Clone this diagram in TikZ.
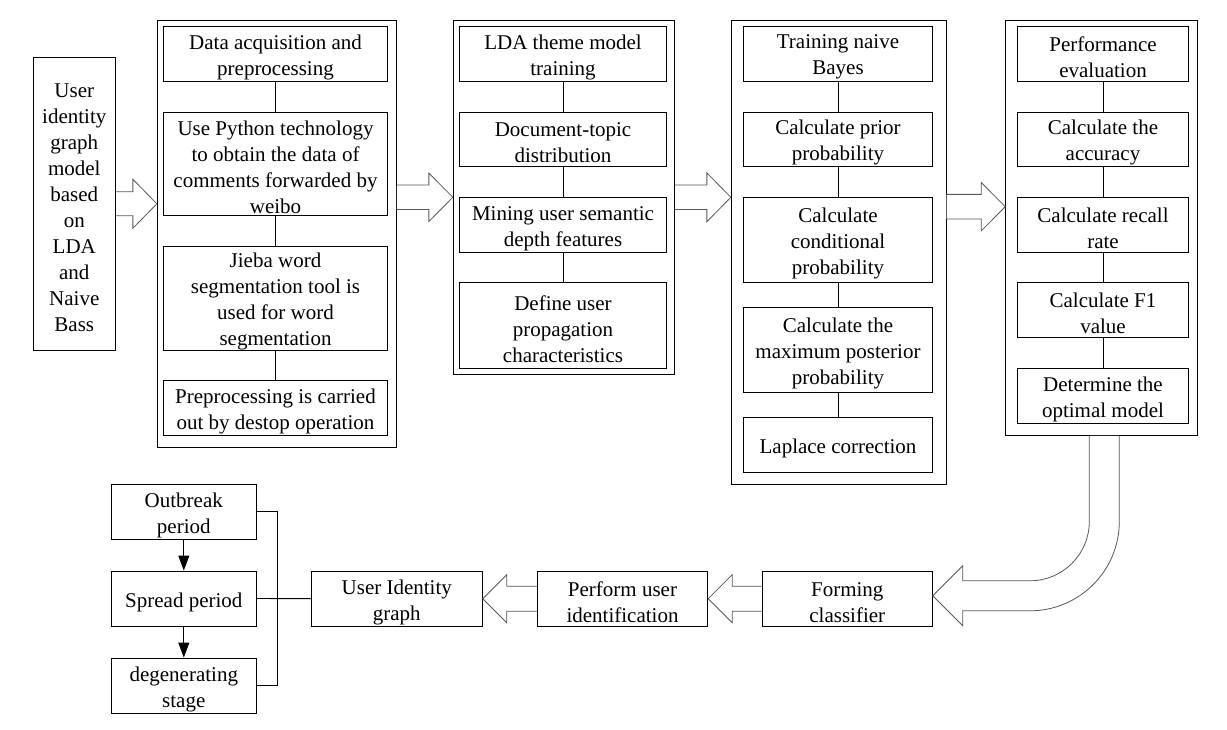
\documentclass[tikz,border=0pt]{standalone}
\usepackage{fontspec}
\setmainfont{Liberation Serif}
\usetikzlibrary{calc,arrows.meta}
\newcommand\fs{\fontsize{21pt}{26pt}\selectfont}
\newcommand\rblock[4]{%
  \draw[barrow] ($(#1)+(0,-#3)$) -- ($(#2)+(-24,-#3)$) -- ($(#2)+(-24,-#4)$) -- (#2)
    -- ($(#2)+(-24,#4)$) -- ($(#2)+(-24,#3)$) -- ($(#1)+(0,#3)$);}
\newcommand\lblock[4]{%
  \draw[barrow] ($(#1)+(0,-#3)$) -- ($(#2)+(24,-#3)$) -- ($(#2)+(24,-#4)$) -- (#2)
    -- ($(#2)+(24,#4)$) -- ($(#2)+(24,#3)$) -- ($(#1)+(0,#3)$);}
% box with text shifted slightly down: name, cx, cy, w, h, text
\newcommand\bx[6]{%
  \node[box,minimum width=#4,minimum height=#5] (#1) at (#2,#3) {};
  \node[txt] (#1t) at ($(#1.center)+(0,3.5)$) {#6};}
\begin{document}
\begin{tikzpicture}[x=1pt,y=-1pt,
  box/.style={draw,line width=0.9pt,inner sep=0pt},
  txt/.style={inner sep=0pt,align=center,font=\fs},
  frame/.style={draw,line width=0.9pt,inner sep=0pt},
  link/.style={line width=0.9pt},
  barrow/.style={draw=black!65,fill=white,line width=0.8pt,line join=miter},
  tri/.style={line width=0.9pt,-{Triangle[length=15pt,width=11pt]}}]
\useasboundingbox (0,0) rectangle (1227,730);
\fill[white] (0,0) rectangle (1227,730);

% left box
\bx{L}{74.3}{203.8}{82.7}{292.3}{User\\identity\\graph\\model\\based\\on\\LDA\\and\\Naive\\Bass}

% group 1
\node[frame,minimum width=239,minimum height=427] (G1) at (276.8,233.8) {};
\bx{a1}{275.5}{53.8}{224.4}{55}{Data acquisition and\\preprocessing}
\bx{a2}{275.5}{163.8}{224.4}{103}{Use Python technology\\to obtain the data of\\comments forwarded by\\weibo}
\bx{a3}{275.5}{298.3}{224.4}{104}{Jieba word\\segmentation tool is\\used for word\\segmentation}
\bx{a4}{275.5}{407.7}{224.4}{55.3}{Preprocessing is carried\\out by destop operation}
\draw[link] (a1) -- (a2); \draw[link] (a2) -- (a3); \draw[link] (a3) -- (a4);

% group 2
\node[frame,minimum width=221.4,minimum height=354] (G2) at (564,197.3) {};
\bx{b1}{563}{53.8}{207.4}{55}{LDA theme model\\training}
\bx{b2}{563}{139.3}{207.4}{54}{Document-topic\\distribution}
\bx{b3}{563}{224.8}{207.4}{55}{Mining user semantic\\depth features}
\bx{b4}{563}{325.5}{207.4}{86.4}{Define user\\propagation\\characteristics}
\draw[link] (b1) -- (b2); \draw[link] (b2) -- (b3); \draw[link] (b3) -- (b4);

% group 3
\node[frame,minimum width=215.4,minimum height=464] (G3) at (839,252.3) {};
\bx{c1}{838}{53.8}{189.4}{55}{Training naive\\Bayes}
\bx{c2}{838}{139.3}{189.4}{54}{Calculate prior\\probability}
\bx{c3}{838}{239.8}{189.4}{85}{Calculate\\conditional\\probability}
\bx{c4}{838}{349.7}{189.4}{85.3}{Calculate the\\maximum posterior\\probability}
\bx{c5}{838}{444.8}{189.4}{55}{Laplace correction}
\draw[link] (c1) -- (c2); \draw[link] (c2) -- (c3); \draw[link] (c3) -- (c4); \draw[link] (c4) -- (c5);

% group 4
\node[frame,minimum width=191.6,minimum height=415] (G4) at (1101.5,227.8) {};
\bx{d1}{1103}{53.8}{171.4}{55}{Performance\\evaluation}
\bx{d2}{1103}{139.3}{171.4}{54}{Calculate the\\accuracy}
\bx{d3}{1103}{224.8}{171.4}{55}{Calculate recall\\rate}
\bx{d4}{1103}{309.8}{171.4}{55}{Calculate F1\\value}
\bx{d5}{1103}{395.8}{171.4}{55}{Determine the\\optimal model}
\draw[link] (d1) -- (d2); \draw[link] (d2) -- (d3); \draw[link] (d3) -- (d4); \draw[link] (d4) -- (d5);

% bottom row
\bx{F}{847.3}{598.7}{170}{54.7}{Forming\\classifier}
\bx{P}{622.5}{598.7}{170.4}{54.7}{Perform user\\identification}
\bx{U}{396.8}{598.7}{171}{54.7}{User Identity\\graph}
\bx{O}{183.8}{511.8}{145}{55}{Outbreak\\period}
\bx{S}{183.8}{598.5}{145}{55}{Spread period}
\bx{D}{183.8}{685.5}{145}{55}{degenerating\\stage}

% top block arrows
\coordinate (t1) at (G1.west |- L.east);
\rblock{L.east}{t1}{12}{24.5}
\coordinate (s2) at (G1.east |- G2.west);
\rblock{s2}{G2.west}{12.3}{24.2}
\coordinate (t3) at (G3.west |- G2.east);
\rblock{G2.east}{t3}{12.2}{24.4}
\coordinate (s4) at (946.7,206.7);
\coordinate (t4) at (G4.west |- s4);
\rblock{s4}{t4}{12.3}{24.2}

% bottom block arrows
\lblock{F.west}{P.east}{12.5}{24}
\lblock{P.west}{U.east}{12.5}{24}

% curved block arrow
\coordinate (cs1) at (1089.3,0 |- G4.south);
\coordinate (cs2) at (1119.3,0 |- G4.south);
\coordinate (ct) at (F.east |- 0,595.8);
\draw[barrow] (cs1) -- (1089.3,521.5)
  .. controls (1089.3,554.25) and (1062.75,580.8) .. (1030,580.8)
  -- ($(ct)+(30,-15)$) -- ($(ct)+(30,-30)$) -- (ct) -- ($(ct)+(30,30)$) -- ($(ct)+(30,15)$)
  -- (1030,610.8) .. controls (1079.3,610.8) and (1119.3,570.8) .. (1119.3,521.5) -- (cs2);

% stage arrows and bracket
\draw[tri] (O) -- (S);
\draw[tri] (S) -- (D);
\draw[link] (O.east) -- (277,0 |- O.east) -- (277,0 |- D.east) -- (D.east);
\draw[link] (S.east) -- (U.west);
\end{tikzpicture}
\end{document}
